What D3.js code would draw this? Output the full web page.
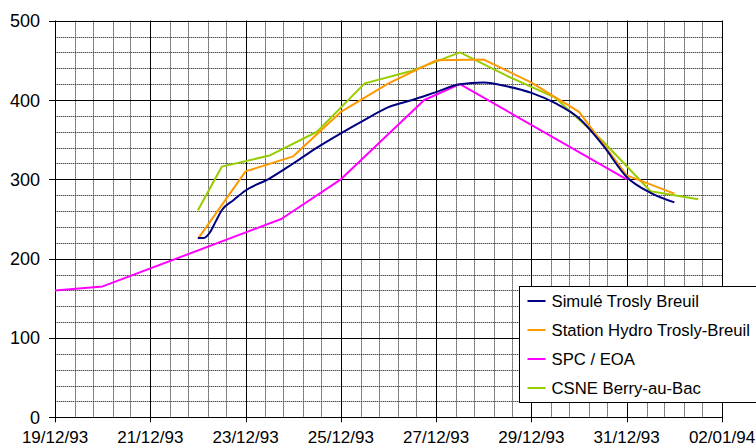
<!DOCTYPE html>
<html>
<head>
<meta charset="utf-8">
<script src="https://cdn.jsdelivr.net/npm/d3@7/dist/d3.min.js"></script>
<style>
  body { margin: 0; background: #fff; }
  text { font-family: "Liberation Sans", Arial, sans-serif; fill: #000; }
</style>
</head>
<body>
<div id="chart-container"></div>
<script>
// times are "dd/mm/yy HH"
const parse = d3.timeParse('%d/%m/%y %H');

const simTimes = ['22/12/93 00','22/12/93 03','22/12/93 06','22/12/93 09','22/12/93 12','22/12/93 18',
  '23/12/93 00','23/12/93 12','24/12/93 00','24/12/93 12','25/12/93 00','25/12/93 12',
  '26/12/93 00','26/12/93 12','27/12/93 00','27/12/93 12','28/12/93 00','28/12/93 12',
  '29/12/93 00','29/12/93 12','30/12/93 00','30/12/93 12','31/12/93 00','31/12/93 12','01/01/94 00'];
const simValues = [226, 226, 233, 247, 261, 274, 286, 301, 320, 340, 358, 375,
  391, 400, 410, 420, 422, 417, 409, 396, 377, 343, 303, 283, 271];

const hydroTimes = ['22/12/93 00','23/12/93 00','24/12/93 00','25/12/93 00','26/12/93 00','27/12/93 00',
  '28/12/93 00','29/12/93 00','30/12/93 00','31/12/93 00','01/01/94 00'];
const hydroValues = [225, 310, 329, 385, 421, 450, 451, 422, 385, 305, 282];

const spcTimes = ['19/12/93 00','20/12/93 00','23/12/93 18','25/12/93 00','26/12/93 18','27/12/93 12','31/12/93 00'];
const spcValues = [160, 165, 250, 300, 400, 420, 300];

const csneTimes = ['22/12/93 00','22/12/93 12','23/12/93 12','24/12/93 12','25/12/93 12','26/12/93 12',
  '27/12/93 12','28/12/93 12','29/12/93 12','30/12/93 12','31/12/93 12','01/01/94 12'];
const csneValues = [261, 316, 330, 360, 421, 437, 460, 430, 403, 348, 285, 275];

const seriesNames = ['Simulé Trosly Breuil', 'Station Hydro Trosly-Breuil', 'SPC / EOA', 'CSNE Berry-au-Bac'];
const seriesColors = ['#000080', '#FF9900', '#FF00FF', '#99CC00'];

const xTickLabels = ['19/12/93','21/12/93','23/12/93','25/12/93','27/12/93','29/12/93','31/12/93','02/01/94'];
const yTicks = [0, 100, 200, 300, 400, 500];

const W = 756, H = 447;
const plotLeft = 55, plotRight = 722, plotTop = 20.7, plotBottom = 417.3;

const x = d3.scaleTime()
  .domain([parse('19/12/93 00'), parse('02/01/94 00')])
  .range([plotLeft, plotRight]);
const y = d3.scaleLinear()
  .domain([0, 500])
  .range([plotBottom, plotTop]);

const svg = d3.select('#chart-container')
  .append('svg')
  .attr('width', W)
  .attr('height', H);

// minor grid (gray, dotted look)
const minorX = d3.range(0, 14.001, 0.4).map(d => d3.timeHour.offset(x.domain()[0], Math.round(d * 24)));
const minorY = d3.range(0, 501, 20);
[['#b4b4b4', null], ['#505050', '1,1']].forEach(([col, dash]) => {
  svg.append('g').selectAll('line')
    .data(minorX)
    .join('line')
    .attr('x1', d => Math.round(x(d)) + 0.5).attr('x2', d => Math.round(x(d)) + 0.5)
    .attr('y1', plotTop).attr('y2', plotBottom)
    .attr('stroke', col).attr('stroke-dasharray', dash);
  svg.append('g').selectAll('line')
    .data(minorY)
    .join('line')
    .attr('x1', plotLeft).attr('x2', plotRight)
    .attr('y1', d => Math.round(y(d)) + 0.5).attr('y2', d => Math.round(y(d)) + 0.5)
    .attr('stroke', col).attr('stroke-dasharray', dash);
});

// major grid
const majorX = xTickLabels.map(s => parse(s + ' 00'));
svg.append('g').selectAll('line')
  .data(majorX)
  .join('line')
  .attr('x1', d => Math.round(x(d)) + 0.5).attr('x2', d => Math.round(x(d)) + 0.5)
  .attr('y1', plotTop).attr('y2', plotBottom + 5)
  .attr('stroke', '#000');
svg.append('g').selectAll('line')
  .data(yTicks)
  .join('line')
  .attr('x1', plotLeft - 6).attr('x2', plotRight)
  .attr('y1', d => Math.round(y(d)) + 0.5).attr('y2', d => Math.round(y(d)) + 0.5)
  .attr('stroke', '#000');

// labels
svg.append('g').selectAll('text')
  .data(yTicks)
  .join('text')
  .attr('x', 40).attr('y', d => y(d) + 6.5)
  .attr('text-anchor', 'end')
  .style('font-size', '18px')
  .text(d => d);
svg.append('g').selectAll('text')
  .data(xTickLabels)
  .join('text')
  .attr('x', d => x(parse(d + ' 00')))
  .attr('y', 443)
  .attr('text-anchor', 'middle')
  .style('font-size', '17px')
  .text(d => d);

// series
const series = [
  {times: simTimes, values: simValues, curve: d3.curveMonotoneX},
  {times: hydroTimes, values: hydroValues, curve: d3.curveLinear},
  {times: spcTimes, values: spcValues, curve: d3.curveLinear},
  {times: csneTimes, values: csneValues, curve: d3.curveLinear}
];
const drawOrder = [2, 3, 1, 0];
drawOrder.forEach(i => {
  const s = series[i];
  const pts = s.times.map((t, j) => [parse(t), s.values[j]]);
  const line = d3.line()
    .x(d => x(d[0]))
    .y(d => y(d[1]))
    .curve(s.curve);
  svg.append('path')
    .attr('d', line(pts))
    .attr('fill', 'none')
    .attr('stroke', seriesColors[i])
    .attr('stroke-width', 2)
    .attr('stroke-linejoin', 'round');
});

// legend
const lg = svg.append('g').attr('transform', 'translate(519.5,286.5)');
lg.append('rect')
  .attr('width', 245).attr('height', 116)
  .attr('fill', '#fff').attr('stroke', '#000');
seriesNames.forEach((name, i) => {
  const yy = 14.5 + i * 29;
  lg.append('line')
    .attr('x1', 8).attr('x2', 26)
    .attr('y1', yy).attr('y2', yy)
    .attr('stroke', seriesColors[i]).attr('stroke-width', 2);
  lg.append('text')
    .attr('x', 32).attr('y', yy + 6)
    .style('font-size', '16.7px')
    .text(name);
});
</script>
</body>
</html>
